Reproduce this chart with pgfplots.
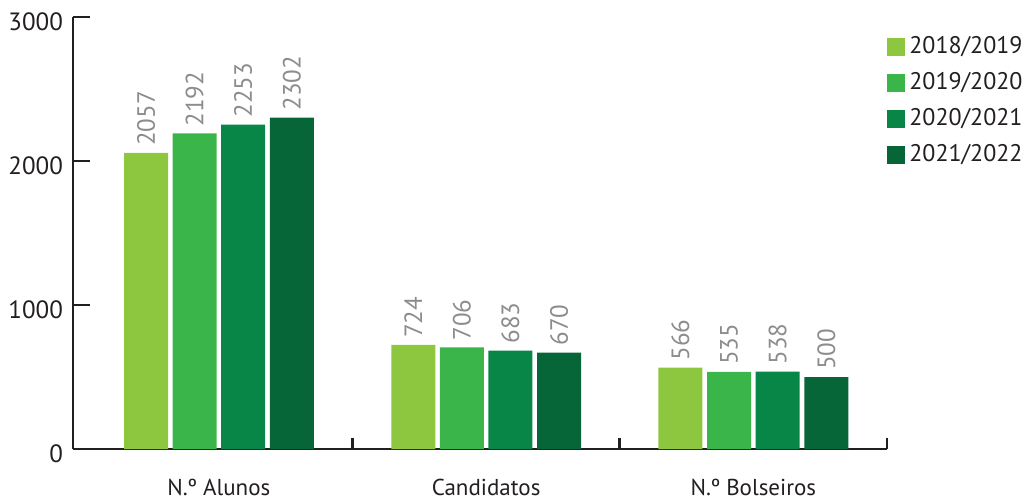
\documentclass[border=0pt]{standalone}
\usepackage{fontspec}
\setmainfont{PT Sans}
\usepackage{pgfplots}
\pgfplotsset{compat=1.18}
\definecolor{cA}{HTML}{8DC63F}
\definecolor{cB}{HTML}{3AB54A}
\definecolor{cC}{HTML}{078647}
\definecolor{cD}{HTML}{076638}
\definecolor{axisdark}{HTML}{231F20}
\definecolor{valgray}{HTML}{8C8C8C}

\begin{document}
\begin{tikzpicture}
\begin{axis}[
  name=ax,
  scale only axis,
  width=407pt, height=216pt,
  ybar=2.3pt,
  bar width=22pt,
  xmin=-0.546, xmax=2.5,
  ymin=0, ymax=3000,
  ytick={0,1000,2000,3000},
  xtick={0,1,2},
  xticklabels={N.º Alunos, Candidatos, N.º Bolseiros},
  minor xtick={0.5,1.5,2.5},
  axis lines=left,
  axis line style={-, line width=1.3pt, draw=axisdark},
  tick align=inside,
  major tick length=8.5pt,
  minor tick length=5.5pt,
  major x tick style={draw=none},
  minor x tick style={draw=axisdark, line width=1.3pt},
  ytick style={draw=axisdark, line width=1.3pt},
  /pgf/number format/assume math mode=true,
  /pgf/number format/1000 sep={},
  yticklabel style={font=\fontsize{12.5}{14}\selectfont, text=axisdark, yshift=-2.5pt, xshift=-1.5pt},
  xticklabel style={font=\fontsize{11.5}{13}\selectfont, text=axisdark, yshift=-11.5pt},
  nodes near coords,
  every node near coord/.append style={rotate=90, anchor=west, font=\fontsize{12.5}{14}\selectfont, text=valgray},
  legend style={at={(axis description cs:1.0,0.965)}, anchor=north west, draw=none, fill=none,
    font=\fontsize{12}{14}\selectfont, text=axisdark, row sep=4pt, inner sep=0pt,
    nodes={inner sep=2pt}},
  legend cell align=left,
  legend image code/.code={\fill[#1,draw=none] (0pt,-4.5pt) rectangle (9pt,4.5pt);},
  clip=false,
]
\addplot[fill=cA, draw=none] coordinates {(0,2057) (1,724) (2,566)};
\addlegendentry{2018/2019}
\addplot[fill=cB, draw=none] coordinates {(0,2192) (1,706) (2,535)};
\addlegendentry{2019/2020}
\addplot[fill=cC, draw=none] coordinates {(0,2253) (1,683) (2,538)};
\addlegendentry{2020/2021}
\addplot[fill=cD, draw=none] coordinates {(0,2302) (1,670) (2,500)};
\addlegendentry{2021/2022}
\end{axis}
\pgfresetboundingbox
\path[use as bounding box] ([shift={(-36.5pt,-25.5pt)}]ax.south west) rectangle ([shift={(475.5pt,224.5pt)}]ax.south west);
\end{tikzpicture}
\end{document}
